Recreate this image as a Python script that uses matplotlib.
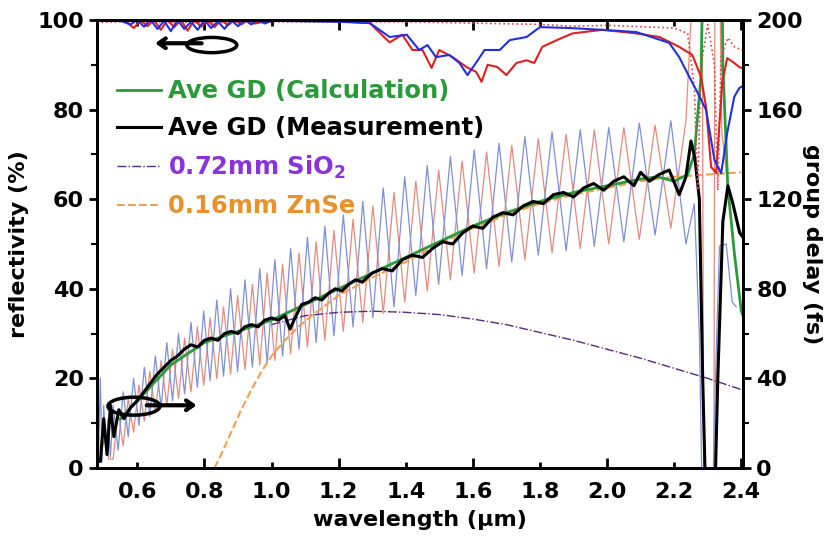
import matplotlib
matplotlib.use("Agg")
import matplotlib.pyplot as plt
from matplotlib.patches import Ellipse
from matplotlib.ticker import FixedLocator, FormatStrFormatter

plt.rcParams["font.family"] = ["DejaVu Sans"]
plt.rcParams["font.weight"] = "bold"
plt.rcParams["axes.labelweight"] = "bold"

# reflectivity (%) - measured blue, red
refl_blue_x = [0.48, 0.55, 0.58, 0.60, 0.62, 0.64, 0.66, 0.68, 0.70, 0.72, 0.74, 0.76, 0.78, 0.80, 0.82,
               0.84, 0.86, 0.88, 0.90, 0.92, 0.94, 0.96, 0.98, 1.00, 1.10, 1.20, 1.293, 1.352, 1.403, 1.44,
               1.465, 1.49, 1.53, 1.56, 1.584, 1.611, 1.635, 1.68, 1.71, 1.76, 1.80, 1.888, 1.986, 2.087,
               2.185, 2.215, 2.245, 2.269, 2.295, 2.32, 2.34, 2.358, 2.379, 2.394, 2.41]
refl_blue_y = [100, 99.8, 99, 100, 98.5, 100, 98, 99.8, 97.5, 100, 98, 99.6, 97.8, 100, 98.2,
               99.7, 98, 100, 98.6, 100, 99, 100, 99.2, 99.8, 99.7, 99.6, 99.3, 96.2, 96.7, 93.3,
               94.4, 91.7, 92.2, 90.4, 87.7, 90.6, 93.3, 93.3, 95.5, 96.2, 98.4, 98.2, 97.8, 97.3,
               94.9, 91.7, 87.3, 83.9, 79.9, 68.8, 65.8, 74.8, 82.8, 84.8, 85.5]
refl_red_x = [0.48, 0.56, 0.59, 0.61, 0.63, 0.65, 0.67, 0.69, 0.71, 0.73, 0.75, 0.77, 0.79, 0.81, 0.83,
              0.85, 0.87, 0.89, 0.91, 0.93, 0.95, 1.00, 1.10, 1.20, 1.293, 1.352, 1.39, 1.42, 1.45, 1.477,
              1.50, 1.54, 1.581, 1.61, 1.626, 1.644, 1.673, 1.70, 1.73, 1.76, 1.783, 1.807, 1.85, 1.897,
              1.986, 2.087, 2.156, 2.215, 2.254, 2.28, 2.295, 2.31, 2.325, 2.343, 2.358, 2.379, 2.394, 2.41]
refl_red_y = [100, 100, 98.2, 100, 98.6, 100, 97.8, 100, 98.4, 100, 97.6, 100, 98.5, 100, 98.4,
              100, 98.8, 100, 99, 100, 99.2, 99.9, 99.8, 99.7, 99.3, 95, 96.7, 93.3, 93.3, 89.3,
              93.3, 91.7, 89.5, 88.4, 86.2, 90, 89.5, 87.7, 90.4, 91, 90.4, 94, 95.5, 97,
              97.8, 97, 96.2, 94, 92.2, 87.3, 80.6, 67.2, 65.8, 85.9, 91.5, 90.4, 89.5, 89]
# reflectivity (%) - calculated, dotted
refl_calc_x = [0.48, 0.60, 0.80, 1.00, 1.20, 1.40, 1.60, 1.80, 1.90, 2.00, 2.10, 2.20, 2.24, 2.26, 2.27,
               2.28, 2.30, 2.32, 2.33, 2.34, 2.36, 2.38, 2.41]
refl_calc_y = [99.5, 99.6, 99.4, 99.6, 99.5, 99.6, 99.3, 99.0, 98.6, 98.8, 98.5, 98.2, 97, 85, 62,
               90, 99, 90, 62, 92, 96, 94, 93]

# group delay (fs) - measured oscillating curves
gd_blue_x = [0.485, 0.49, 0.495, 0.50, 0.507, 0.513, 0.52,
             0.528, 0.543, 0.558, 0.573, 0.589, 0.605, 0.621, 0.637, 0.654, 0.671, 0.688, 0.705,
             0.723, 0.741, 0.760, 0.779, 0.798, 0.817, 0.837, 0.857, 0.878, 0.899, 0.921, 0.943,
             0.965, 0.987, 1.010, 1.033, 1.057, 1.082, 1.107, 1.133, 1.159, 1.186, 1.214, 1.243,
             1.272, 1.302, 1.333, 1.365, 1.397, 1.430, 1.464, 1.498, 1.533, 1.568, 1.604, 1.641,
             1.678, 1.716, 1.755, 1.795, 1.836, 1.878, 1.920, 1.962, 2.005, 2.050, 2.096, 2.143,
             2.190, 2.235, 2.260, 2.275, 2.283, 2.315, 2.325, 2.335, 2.355, 2.373, 2.385]
gd_blue_y = [8, 40, 3, 28, 6, 22, 5,
             28, 8, 34, 14, 40, 19, 45, 23, 50, 27, 56, 30,
             60, 33, 65, 36, 70, 39, 75, 41, 80, 43, 84, 45,
             89, 47, 93, 50, 98, 53, 103, 56, 108, 59, 113, 63,
             119, 67, 125, 72, 130, 77, 135, 82, 139, 86, 142, 89,
             145, 92, 148, 95, 150, 97, 151, 99, 152, 101, 154, 104,
             155, 100, 118, 60, -10, -10, 50, 99, 100, 74, 72]
gd_red_x = [0.49, 0.505, 0.515,
            0.528, 0.543, 0.558, 0.573, 0.589, 0.605, 0.621, 0.637, 0.654, 0.671, 0.688, 0.705,
            0.723, 0.741, 0.760, 0.779, 0.798, 0.817, 0.837, 0.857, 0.878, 0.899, 0.921, 0.943,
            0.965, 0.987, 1.010, 1.033, 1.057, 1.082, 1.107, 1.133, 1.159, 1.186, 1.214, 1.243,
            1.272, 1.302, 1.333, 1.365, 1.397, 1.430, 1.464, 1.498, 1.533, 1.568, 1.604, 1.641,
            1.678, 1.716, 1.755, 1.795, 1.836, 1.878, 1.920, 1.962, 2.005, 2.050, 2.096, 2.143,
            2.190, 2.235, 2.260, 2.283, 2.288, 2.318, 2.322, 2.332, 2.342, 2.360, 2.380, 2.400]
gd_red_y = [6, 14, 4,
            4, 25, 10, 31, 16, 37, 21, 43, 25, 48, 28, 53,
            31, 58, 34, 63, 37, 67, 40, 72, 42, 77, 44, 82,
            46, 87, 48, 91, 51, 96, 54, 101, 57, 106, 61, 111,
            65, 117, 69, 123, 74, 128, 79, 133, 84, 137, 87, 141,
            90, 144, 93, 147, 96, 149, 98, 151, 100, 152, 102, 153,
            107, 155, 230, 260, -20, -20, 260, 260, 150, 126, 114, 105]

# average group delay (fs)
gd_meas_x = [0.49, 0.50, 0.51, 0.52, 0.53, 0.545, 0.56, 0.58, 0.60, 0.62, 0.64, 0.66, 0.68, 0.70, 0.72,
             0.74, 0.76, 0.78, 0.80, 0.82, 0.84, 0.86, 0.88, 0.90, 0.92, 0.94, 0.96, 0.98, 1.00, 1.02,
             1.04, 1.055, 1.07, 1.09, 1.11, 1.13, 1.15, 1.17, 1.19, 1.21, 1.23, 1.25, 1.27, 1.30, 1.33,
             1.36, 1.39, 1.42, 1.45, 1.48, 1.51, 1.54, 1.57, 1.60, 1.63, 1.66, 1.69, 1.72, 1.75, 1.78,
             1.81, 1.84, 1.87, 1.90, 1.93, 1.96, 1.99, 2.02, 2.05, 2.08, 2.10, 2.126, 2.155, 2.185,
             2.215, 2.235, 2.25, 2.262, 2.275, 2.285, 2.295, 2.32, 2.33, 2.345, 2.36, 2.375, 2.395, 2.41]
gd_meas_y = [3, 22, 6, 28, 14, 26, 22, 27, 30, 34, 38, 42, 45, 48, 50,
             53, 55, 54, 57, 58, 57, 60, 61, 60, 63, 64, 63, 66, 67, 66,
             68, 62, 67, 73, 74, 76, 75, 78, 80, 79, 82, 84, 83, 87, 89,
             88, 93, 95, 94, 98, 101, 100, 105, 108, 107, 112, 114, 113, 117, 119,
             118, 122, 123, 121, 125, 127, 124, 128, 130, 126, 132, 128, 131, 133,
             122, 130, 146, 138, 120, 40, -20, -20, 40, 110, 126, 118, 105, 102]
gd_calc_x = [0.55, 0.60, 0.70, 0.80, 0.90, 1.00, 1.10, 1.20, 1.30, 1.40, 1.50, 1.60, 1.70, 1.80, 1.90,
             2.00, 2.10, 2.15, 2.20, 2.24, 2.26, 2.28, 2.29, 2.34, 2.345, 2.36, 2.38, 2.40, 2.41]
gd_calc_y = [22, 30, 46, 56, 61, 66, 73, 80, 87, 94, 101, 108, 114, 119, 123,
             126, 129, 130, 128, 131, 140, 175, 260, 260, 180, 125, 95, 70, 66]

# material dispersion (fs)
sio2_x = [1.00, 1.10, 1.20, 1.30, 1.40, 1.50, 1.60, 1.70, 1.80, 1.90, 2.00, 2.10, 2.20, 2.30, 2.40]
sio2_y = [64, 68, 69.5, 70, 69.5, 68.5, 66.5, 64, 60.5, 57, 53, 49, 44.5, 40, 35]
znse_x = [0.83, 0.85, 0.88, 0.91, 0.94, 0.97, 1.00, 1.04, 1.08, 1.12, 1.20, 1.30, 1.40, 1.50, 1.60,
          1.70, 1.80, 1.90, 2.00, 2.10, 2.20, 2.30, 2.40]
znse_y = [0, 6, 16, 26, 35, 43, 50, 57, 63, 68, 77, 85, 92, 100, 107,
          113, 118, 122, 125, 128, 130, 131, 132]

fig = plt.figure(figsize=(8.32, 5.44), dpi=100)
ax1 = fig.add_axes([0.1166, 0.1397, 0.7764, 0.8236])
ax2 = ax1.twinx()

ax1.plot(refl_calc_x, refl_calc_y, color="#e04040", lw=1.2, ls=":")
ax1.plot(refl_red_x, refl_red_y, color="#e02020", lw=1.5)
ax1.plot(refl_blue_x, refl_blue_y, color="#2030e0", lw=1.5)

ax2.plot(gd_red_x, gd_red_y, color="#e58a7c", lw=0.9)
ax2.plot(gd_blue_x, gd_blue_y, color="#7f8fd8", lw=0.9)
ax2.plot(sio2_x, sio2_y, color="#5a2a7a", lw=1.0, ls="-.", label="0.72mm SiO$_{\\mathbf{2}}$")
ax2.plot(znse_x, znse_y, color="#f0a050", lw=1.5, ls="--", label="0.16mm ZnSe")
ax2.plot(gd_calc_x, gd_calc_y, color="#2a9a3a", lw=2.0, label="Ave GD (Calculation)")
ax2.plot(gd_meas_x, gd_meas_y, color="black", lw=2.2, label="Ave GD (Measurement)")

# axes ranges and ticks
ax1.set_xlim(0.48, 2.405)
ax1.set_ylim(0, 100)
ax2.set_ylim(0, 200)
ax1.xaxis.set_major_locator(FixedLocator([0.8, 1.2, 1.6, 2.0, 2.4]))
ax1.xaxis.set_minor_locator(FixedLocator([0.6, 1.0, 1.4, 1.8, 2.2]))
ax1.xaxis.set_major_formatter(FormatStrFormatter("%.1f"))
ax1.xaxis.set_minor_formatter(FormatStrFormatter("%.1f"))
ax1.set_yticks([0, 20, 40, 60, 80, 100])
ax1.yaxis.set_minor_locator(FixedLocator([10, 30, 50, 70, 90]))
ax2.set_yticks([0, 40, 80, 120, 160, 200])
ax2.yaxis.set_minor_locator(FixedLocator([20, 60, 100, 140, 180]))

ax1.tick_params(axis="x", which="both", direction="in", top=True, labelsize=16, width=2, pad=10)
ax1.tick_params(axis="x", which="major", length=7)
ax1.tick_params(axis="x", which="minor", length=4)
ax1.tick_params(axis="y", which="major", direction="out", length=6, width=2, labelsize=16)
ax1.tick_params(axis="y", which="minor", direction="out", length=4, width=1.5)
ax2.tick_params(axis="y", which="major", direction="out", length=6, width=2, labelsize=16)
ax2.tick_params(axis="y", which="minor", direction="out", length=4, width=1.5)
for ax in (ax1, ax2):
    for sp in ax.spines.values():
        sp.set_linewidth(2)

ax1.set_xlabel("wavelength (µm)", fontsize=16, labelpad=6)
ax1.set_ylabel("reflectivity (%)", fontsize=16, labelpad=6)
ax2.set_ylabel("group delay (fs)", fontsize=16, rotation=270, labelpad=14)

# legend in the upper left, calculation first
h, l = ax2.get_legend_handles_labels()
order = [2, 3, 0, 1]
ax2.legend([h[i] for i in order], [l[i] for i in order], loc="upper left",
           bbox_to_anchor=(0.031, 0.868), frameon=False,
           prop={"size": 17.5, "weight": "bold"}, handlelength=1.8, handletextpad=0.3,
           labelspacing=0.55, borderpad=0, borderaxespad=0,
           labelcolor=["#2a9a3a", "black", "#8a33dd", "#e8922e"])

# ellipses and arrows marking which axis belongs to which data
ax1.add_patch(Ellipse((0.822, 94.4), 0.149, 3.4, fill=False, lw=2.5, color="black", zorder=5))
ax1.annotate("", xy=(0.645, 94.8), xytext=(0.80, 94.8),
             arrowprops=dict(arrowstyle="->,head_length=0.5,head_width=0.35", lw=3, color="black"))
ax1.add_patch(Ellipse((0.590, 13.8), 0.155, 4.0, fill=False, lw=2.5, color="black", zorder=5))
ax1.annotate("", xy=(0.785, 14.0), xytext=(0.62, 14.0),
             arrowprops=dict(arrowstyle="->,head_length=0.5,head_width=0.35", lw=3, color="black"))
ax1.set_zorder(ax2.get_zorder() + 1)
ax1.patch.set_visible(False)

plt.savefig("out.png", dpi=100)
